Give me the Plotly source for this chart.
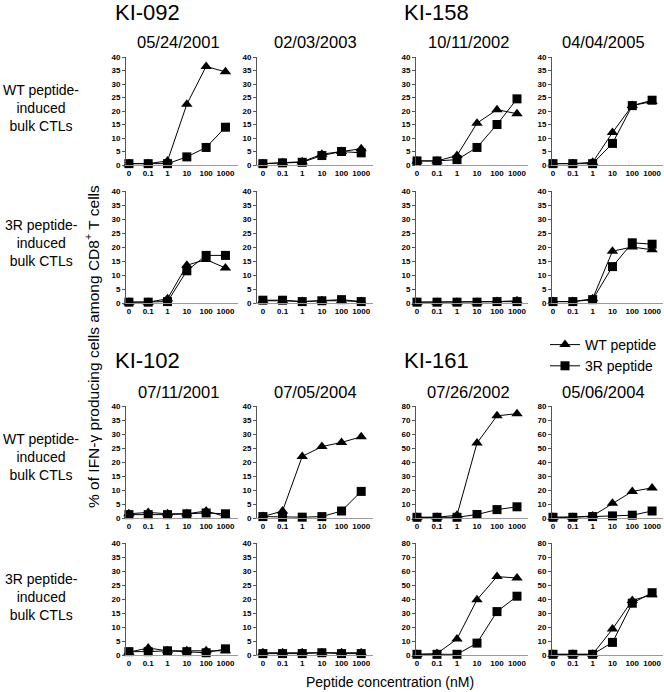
import plotly.graph_objects as go

W, H = 664, 692

concentrations = ["0", "0.1", "1", "10", "100", "1000"]

patients = ["KI-092", "KI-158", "KI-102", "KI-161"]
dates = ["05/24/2001", "02/03/2003", "10/11/2002", "04/04/2005",
         "07/11/2001", "07/05/2004", "07/26/2002", "05/06/2004"]
row_labels = ["WT peptide-<br>induced<br>bulk CTLs", "3R peptide-<br>induced<br>bulk CTLs",
              "WT peptide-<br>induced<br>bulk CTLs", "3R peptide-<br>induced<br>bulk CTLs"]

# WT peptide stimulation, per panel (row-major: 4 rows x 4 cols)
wt_values = [
    [0.5, 0.5, 1.5, 22.5, 36.5, 34.5],
    [0.5, 0.8, 1.2, 4.0, 5.0, 6.0],
    [1.5, 1.5, 3.5, 15.5, 20.5, 19.0],
    [0.5, 0.5, 1.0, 12.0, 22.0, 23.5],
    [0.3, 0.3, 1.5, 13.5, 15.5, 12.5],
    [0.8, 0.8, 0.5, 0.8, 0.8, 0.5],
    [0.3, 0.3, 0.3, 0.3, 0.5, 0.8],
    [0.5, 0.5, 1.5, 18.5, 20.0, 19.0],
    [1.5, 2.0, 1.5, 1.5, 2.5, 0.5],
    [0.5, 2.5, 22.0, 25.5, 27.0, 29.0],
    [0.5, 0.5, 2.0, 53.5, 73.0, 74.5],
    [0.5, 0.5, 1.5, 10.5, 19.0, 21.5],
    [1.0, 2.5, 1.5, 1.5, 1.5, 1.5],
    [0.8, 0.8, 0.8, 0.8, 0.8, 0.8],
    [0.5, 1.0, 11.5, 39.5, 56.0, 55.0],
    [0.5, 0.5, 0.5, 18.5, 39.0, 43.0],
]
# 3R peptide stimulation
r3_values = [
    [0.5, 0.5, 0.5, 3.0, 6.5, 14.0],
    [0.5, 0.8, 1.0, 3.5, 5.0, 4.5],
    [1.5, 1.5, 2.0, 6.5, 15.0, 24.5],
    [0.5, 0.5, 0.5, 8.0, 22.0, 24.0],
    [0.3, 0.3, 0.5, 11.5, 17.0, 17.0],
    [1.0, 1.0, 0.5, 0.8, 1.2, 0.5],
    [0.3, 0.3, 0.3, 0.3, 0.5, 0.5],
    [0.5, 0.5, 1.2, 13.0, 21.5, 21.0],
    [1.2, 1.2, 1.2, 1.5, 1.8, 1.5],
    [0.5, 0.3, 0.3, 0.5, 2.5, 9.5],
    [0.5, 0.5, 0.5, 2.5, 6.0, 8.0],
    [0.5, 0.5, 1.0, 1.5, 2.0, 5.0],
    [1.2, 1.2, 1.5, 1.2, 0.8, 2.2],
    [0.5, 0.5, 0.5, 0.8, 0.5, 0.5],
    [0.5, 0.5, 0.5, 8.5, 31.0, 42.0],
    [0.5, 0.5, 0.5, 9.0, 37.0, 44.5],
]
y_max = [40, 40, 40, 40,
         40, 40, 40, 40,
         40, 40, 80, 80,
         40, 40, 80, 80]

# layout geometry (page pixels)
col_geo = [(126, 238, -0.15, 5.65), (257, 373, -0.3, 5.6),
           (416, 528, -0.05, 5.55), (552, 663, -0.05, 5.55)]
row_geo = [(57, 165), (191, 303), (406, 518), (543, 655)]


def px(x):
    return x / W


def py(y):
    return 1 - y / H


fig = go.Figure()
layout = {}
FONT = "Arial, Liberation Sans, sans-serif"

for r in range(4):
    for c in range(4):
        i = r * 4 + c
        n = i + 1
        xa = "x" if n == 1 else f"x{n}"
        ya = "y" if n == 1 else f"y{n}"
        fig.add_trace(go.Scatter(
            x=concentrations, y=wt_values[i], xaxis=xa, yaxis=ya,
            mode="lines+markers", name="WT peptide", showlegend=(i == 0),
            line=dict(color="black", width=1),
            marker=dict(symbol="triangle-up", size=10, color="black"),
            cliponaxis=False,
        ))
        fig.add_trace(go.Scatter(
            x=concentrations, y=r3_values[i], xaxis=xa, yaxis=ya,
            mode="lines+markers", name="3R peptide", showlegend=(i == 0),
            line=dict(color="black", width=1),
            marker=dict(symbol="square", size=9, color="black"),
            cliponaxis=False,
        ))
        x0, x1, lo, hi = col_geo[c]
        t, b = row_geo[r]
        xkey = "xaxis" if n == 1 else f"xaxis{n}"
        ykey = "yaxis" if n == 1 else f"yaxis{n}"
        layout[xkey] = dict(
            domain=[px(x0), px(x1)], anchor=ya, type="category",
            categoryorder="array", categoryarray=concentrations,
            range=[lo, hi], showline=True, linecolor="#9a9a9a", linewidth=1,
            showgrid=False, zeroline=False, ticks="", tickangle=0,
            tickfont=dict(family=FONT, size=8, color="black", weight="bold"),
        )
        ym = y_max[i]
        layout[ykey] = dict(
            domain=[py(b), py(t)], anchor=xa, range=[0, ym],
            dtick=5 if ym == 40 else 10, tick0=0,
            showline=True, linecolor="#555555", linewidth=1,
            showgrid=False, zeroline=False, ticks="outside", ticklen=3,
            tickcolor="#555555", tickwidth=1,
            tickfont=dict(family=FONT, size=8, color="black", weight="bold"),
        )

annotations = []
# patient titles
for name, (x, y) in zip(patients, [(113, 12), (402, 12), (113, 360), (402, 360)]):
    annotations.append(dict(text=name, x=px(x), y=py(y), xref="paper", yref="paper",
                            xanchor="left", yanchor="middle", showarrow=False,
                            font=dict(family=FONT, size=22, color="black")))
# dates
date_pos = [(178, 42), (315, 42), (468, 42), (603, 42),
            (178, 392), (315, 392), (468, 392), (603, 392)]
for d, (x, y) in zip(dates, date_pos):
    annotations.append(dict(text=d, x=px(x), y=py(y), xref="paper", yref="paper",
                            xanchor="center", yanchor="middle", showarrow=False,
                            font=dict(family=FONT, size=16.5, color="black")))
# row labels
for lbl, y in zip(row_labels, [108, 243, 457, 597]):
    annotations.append(dict(text=lbl, x=px(41), y=py(y), xref="paper", yref="paper",
                            xanchor="center", yanchor="middle", showarrow=False,
                            align="center",
                            font=dict(family=FONT, size=14, color="black")))
# axis titles
annotations.append(dict(text="% of IFN-γ producing cells among CD8<sup>+</sup> T cells",
                        x=px(92), y=py(347), xref="paper", yref="paper",
                        textangle=-90, xanchor="center", yanchor="middle",
                        showarrow=False, font=dict(family=FONT, size=15.5, color="black")))
annotations.append(dict(text="Peptide concentration (nM)",
                        x=px(390), y=py(682), xref="paper", yref="paper",
                        xanchor="center", yanchor="middle",
                        showarrow=False, font=dict(family=FONT, size=14, color="black")))

fig.update_layout(
    width=W, height=H, margin=dict(l=0, r=0, t=0, b=0, autoexpand=False),
    paper_bgcolor="white", plot_bgcolor="white",
    annotations=annotations,
    legend=dict(x=px(662), y=py(329), xanchor="right", yanchor="top",
                bgcolor="rgba(0,0,0,0)", tracegroupgap=0, itemwidth=30,
                font=dict(family=FONT, size=14, color="black")),
    **layout,
)

fig.write_html("out.html",
               config={"displayModeBar": False},
               post_script="document.body.style.margin='0px';"
                           "document.body.style.overflow='hidden';")
